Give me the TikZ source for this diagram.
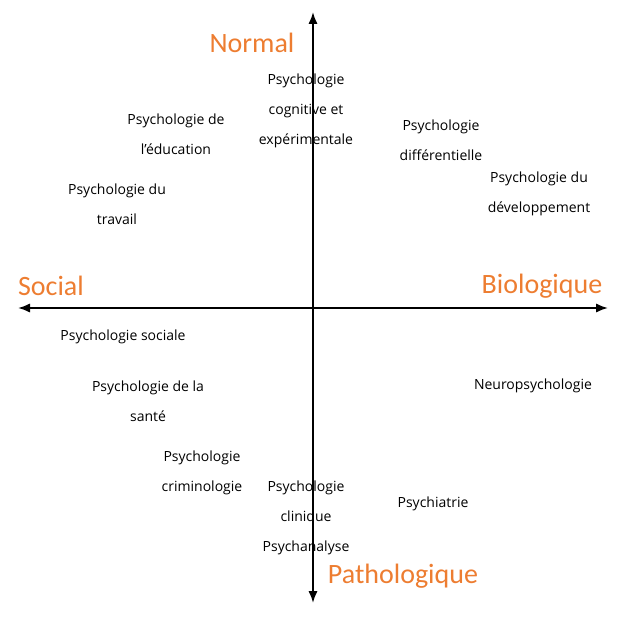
\documentclass[tikz,border=0pt]{standalone}
\usepackage{fontspec}
\setmainfont{Open Sans}
\newfontfamily\axisfont{Carlito}
\usetikzlibrary{arrows.meta}
\definecolor{axisorange}{HTML}{ED7D31}
\tikzset{
  field/.style={align=center, inner sep=0pt, font=\fontsize{10.5pt}{22.5pt}\selectfont},
  pole/.style={inner sep=0pt, text=axisorange, font=\axisfont\fontsize{21pt}{24pt}\selectfont},
  axis/.style={line width=1.5pt, {Latex[length=9pt,width=7pt]}-{Latex[length=9pt,width=7pt]}}
}
\begin{document}
\begin{tikzpicture}[x=0.75pt, y=-0.75pt]
        \useasboundingbox (0,0) rectangle (622,617);

        \coordinate (top) at (313,12);
        \coordinate (bottom) at (313,603);
        \coordinate (left) at (18,308);
        \coordinate (right) at (608,308);
        \draw[axis] (top) -- (bottom);
        \draw[axis] (left) -- (right);

        % poles
        \node[pole] (normal) at (252,43) {Normal};
        \node[pole] (social) at (51,286) {Social};
        \node[pole] (biologique) at (542,286) {Biologique};
        \node[pole] (pathologique) at (403,576) {Pathologique};

        % fields
        \node[field] (cognitive) at (306,111) {Psychologie\\cognitive et\\expérimentale};
        \node[field] (education) at (176,134.5) {Psychologie de\\l’éducation};
        \node[field] (differentielle) at (441,140.5) {Psychologie\\différentielle};
        \node[field] (travail) at (117,204) {Psychologie du\\travail};
        \node[field] (developpement) at (539,193.5) {Psychologie du\\développement};
        \node[field] (sociale) at (123,337) {Psychologie sociale};
        \node[field] (sante) at (148,401) {Psychologie de la\\santé};
        \node[field] (neuro) at (533,386) {Neuropsychologie};
        \node[field] (criminologie) at (202,473) {Psychologie\\criminologie};
        \node[field] (clinique) at (306,517.5) {Psychologie\\clinique\\Psychanalyse};
        \node[field] (psychiatrie) at (433,504) {Psychiatrie};
    \end{tikzpicture}
\end{document}
